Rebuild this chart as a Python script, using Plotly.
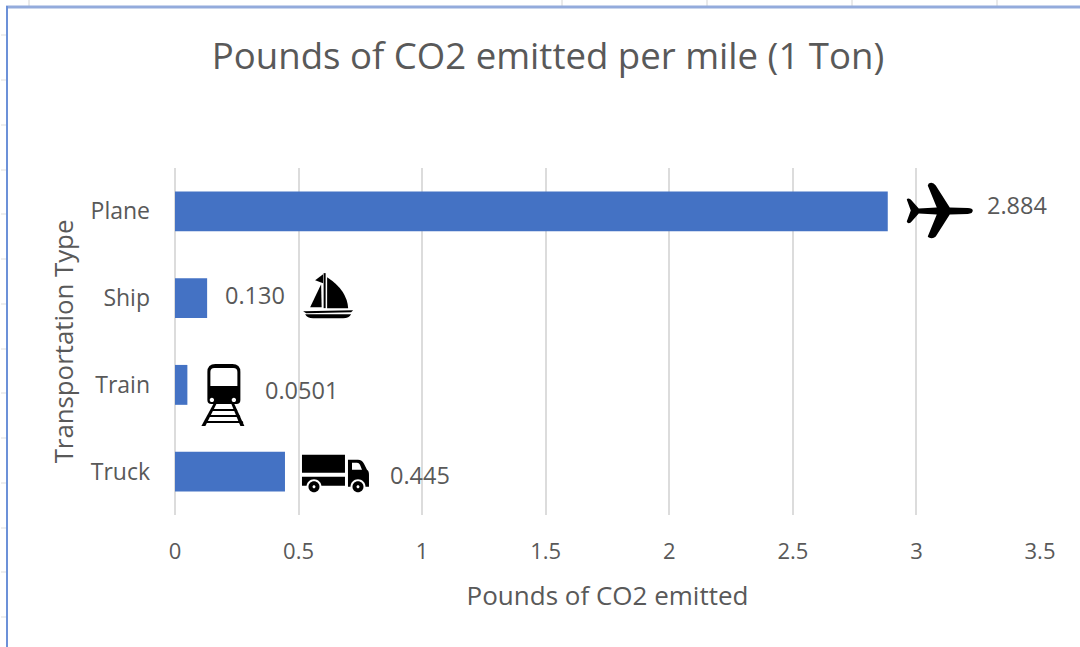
import re
import plotly.graph_objects as go

# Chart data
categories = ["Plane", "Ship", "Train", "Truck"]
emissions = [2.884, 0.130, 0.0501, 0.445]
value_labels = ["2.884", "0.130", "0.0501", "0.445"]
x_ticks = [0, 0.5, 1, 1.5, 2, 2.5, 3, 3.5]

WIDTH, HEIGHT = 1080, 647
M_LEFT, M_RIGHT, M_TOP, M_BOTTOM = 175, 40, 168, 132
TEXT = "#595959"
FONT = "Open Sans"
BAR = "#4472C4"
GRID = "#DCDCDC"


def circle(cx, cy, r):
    k = 0.5523 * r
    return (
        f"M {cx-r} {cy} C {cx-r} {cy-k} {cx-k} {cy-r} {cx} {cy-r} "
        f"C {cx+k} {cy-r} {cx+r} {cy-k} {cx+r} {cy} "
        f"C {cx+r} {cy+k} {cx+k} {cy+r} {cx} {cy+r} "
        f"C {cx-k} {cy+r} {cx-r} {cy+k} {cx-r} {cy} Z"
    )


def flip(path):
    """Icons are written y-down; pixel-sized shapes measure y upward."""
    count = [0]

    def swap(match):
        count[0] += 1
        value = float(match.group())
        return str(-value if count[0] % 2 == 0 else value)

    return re.sub(r"-?\d+\.?\d*", swap, path)


# Each icon is a list of (fill, path) layers in pixels from the bar end / band centre
ICONS = {
    "Plane": [
        ("black",
         "M 85 -1 Q 85 -3.5 80 -3.5 L 62 -4 L 48 -26 Q 45 -30 41 -28 L 40 -26 L 49 -4 "
         "L 31 -3 L 23 -12 Q 20 -14 19 -12 L 23 -1 L 19 10 Q 20 13 23 11 L 31 2 "
         "L 49 3 L 40 25 L 41 26 Q 45 28 48 25 L 62 3 L 80 2.5 Q 85 2 85 -1 Z"),
    ],
    "Ship": [
        ("black", "M 120 -21 L 120 10 L 141 10 Q 140 -8 120 -21 Z"),
        ("black", "M 116.5 -25 L 118.5 -25 L 118.5 10 L 116.5 10 Z"),
        ("black", "M 114 -14 L 103 9 L 114.5 9 Z"),
        ("black", "M 108 -18 L 116 -24 L 116 -15 Z"),
        ("black", "M 96 13 L 146 12 L 144 14 L 99 15 Z"),
        ("black", "M 98 16 L 144 16 Q 142 20 136 20 L 106 20 Q 100 20 98 16 Z"),
    ],
    "Train": [
        ("black",
         "M 20 -13 Q 20 -21 28 -21 L 45 -21 Q 53 -21 53 -13 L 53 15 Q 53 19 49 19 "
         "L 24 19 Q 20 19 20 15 Z"),
        ("white",
         "M 23 -13 Q 23 -17 27 -17 L 46 -17 Q 50 -17 50 -13 L 50 1 L 23 1 Z"),
        ("white", circle(24.5, 15, 2.2)),
        ("white", circle(46.5, 15, 2.2)),
        ("black", "M 26 19 L 29 19 L 18 41 L 14 41 Z"),
        ("black", "M 44 19 L 47 19 L 57 41 L 53 41 Z"),
        ("black", "M 24 24 L 49 24 L 50 26 L 23 26 Z"),
        ("black", "M 21 30 L 52 30 L 53 32 L 20 32 Z"),
        ("black", "M 18 36 L 55 36 L 56 38 L 17 38 Z"),
    ],
    "Truck": [
        ("black", "M 17 -17 L 60 -17 L 60 1 L 17 1 Z"),
        ("black", "M 17 5 L 60 5 L 60 14 L 17 14 Z"),
        ("black",
         "M 63 -12 L 73 -12 Q 77 -12 79 -8 L 82 -2 Q 84 -1 84 3 L 84 15 L 63 15 Z"),
        ("white", "M 67 -9 L 72 -9 Q 74 -9 75 -7 L 77 -2 L 67 -2 Z"),
        ("white", circle(29, 15, 7.5)),
        ("black", circle(29, 15, 5.5)),
        ("white", circle(29, 15, 1.5)),
        ("white", circle(73, 15, 7.5)),
        ("black", circle(73, 15, 5.5)),
        ("white", circle(73, 15, 1.5)),
    ],
}

# Horizontal and vertical pixel shifts of the value labels from the bar ends
LABEL_SHIFT = {
    "Plane": (97, 6),
    "Ship": (16, 3),
    "Train": (76, -5),
    "Truck": (103, -3),
}


def paper_x(px):
    return (px - M_LEFT) / (WIDTH - M_LEFT - M_RIGHT)


def paper_y(py):
    return (HEIGHT - M_BOTTOM - py) / (HEIGHT - M_TOP - M_BOTTOM)


def frame_line(x0, y0, x1, y1, color, width):
    return dict(
        type="line", xref="paper", yref="paper", layer="above",
        x0=paper_x(x0), y0=paper_y(y0), x1=paper_x(x1), y1=paper_y(y1),
        line=dict(color=color, width=width),
    )


fig = go.Figure(
    go.Bar(
        x=emissions,
        y=categories,
        orientation="h",
        marker=dict(color=BAR, line=dict(width=0)),
        hoverinfo="skip",
        showlegend=False,
    )
)

shapes = []

# Worksheet cell ticks peeking out behind the chart frame
for px in [29, 562, 707, 852, 997]:
    shapes.append(frame_line(px, 0, px, 7, "#D4D4D4", 1))
for py in [35, 80, 125, 170, 214, 259, 304, 349, 393, 438, 483, 528, 572, 617]:
    shapes.append(frame_line(1, py, 7, py, "#DDDDDD", 1))

# Chart frame: only its top and left edges fall inside the view
shapes.append(frame_line(6, 7, WIDTH, 7, "#93ABDC", 3))
shapes.append(frame_line(7, 6, 7, HEIGHT, "#6C91D8", 2))

# Icons anchored at the end of each bar
for name, value in zip(categories, emissions):
    for fill, path in ICONS[name]:
        shapes.append(
            dict(
                type="path", layer="above",
                xref="x", yref="y",
                xsizemode="pixel", ysizemode="pixel",
                xanchor=value, yanchor=categories.index(name),
                path=flip(path),
                fillcolor=fill,
                line=dict(width=0),
            )
        )

annotations = []
for name, value, label in zip(categories, emissions, value_labels):
    dx, dy = LABEL_SHIFT[name]
    annotations.append(
        dict(
            x=value, y=name, xref="x", yref="y",
            text=label, showarrow=False,
            xanchor="left", yanchor="middle",
            xshift=dx, yshift=dy,
            font=dict(family=FONT, size=23.5, color=TEXT),
        )
    )

fig.update_layout(
    width=WIDTH,
    height=HEIGHT,
    margin=dict(l=M_LEFT, r=M_RIGHT, t=M_TOP, b=M_BOTTOM),
    paper_bgcolor="white",
    plot_bgcolor="white",
    bargap=0.54,
    font=dict(family=FONT, color=TEXT),
    title=dict(
        text="Pounds of CO2 emitted per mile (1 Ton)",
        x=548 / WIDTH, xanchor="center", xref="container",
        y=1 - 56 / HEIGHT, yanchor="middle", yref="container",
        font=dict(family=FONT, size=36.6, color=TEXT),
    ),
    xaxis=dict(
        range=[0, 3.5],
        tickvals=x_ticks,
        showgrid=True, gridcolor=GRID, gridwidth=1.5,
        zeroline=True, zerolinecolor=GRID, zerolinewidth=1.5,
        showline=False, ticks="",
        ticklabelstandoff=21,
        tickfont=dict(family=FONT, size=22, color=TEXT),
        title=dict(text="Pounds of CO2 emitted", standoff=22,
                   font=dict(family=FONT, size=26, color=TEXT)),
        automargin=False,
    ),
    yaxis=dict(
        categoryorder="array",
        categoryarray=categories,
        autorange="reversed",
        showgrid=False, zeroline=False, showline=False, ticks="",
        ticklabelstandoff=24,
        tickfont=dict(family=FONT, size=23, color=TEXT),
        title=dict(text="Transportation Type", standoff=9,
                   font=dict(family=FONT, size=25.8, color=TEXT)),
        automargin=False,
    ),
    shapes=shapes,
    annotations=annotations,
)

fig.write_html("out.html", config={"displayModeBar": False})
